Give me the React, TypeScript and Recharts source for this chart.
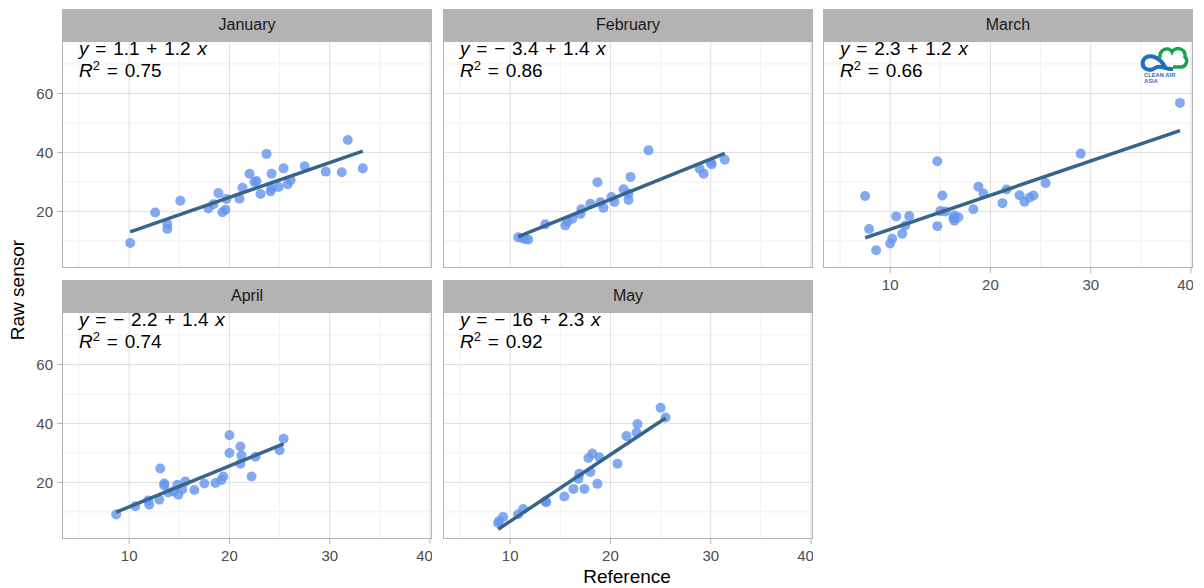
import React from 'react';
import { CartesianGrid, Scatter, ScatterChart, XAxis, YAxis } from 'recharts';

type Pt = { x: number; y: number };

const months = ['January', 'February', 'March', 'April', 'May'];

const january: Pt[] = [
  { x: 10.1, y: 9.3 }, { x: 12.6, y: 19.6 }, { x: 13.8, y: 15.7 }, { x: 13.8, y: 14.0 },
  { x: 15.1, y: 23.6 }, { x: 17.9, y: 21.0 }, { x: 18.4, y: 22.4 }, { x: 18.9, y: 26.2 },
  { x: 19.3, y: 19.7 }, { x: 19.6, y: 20.6 }, { x: 19.7, y: 24.2 }, { x: 21.0, y: 24.3 },
  { x: 21.3, y: 28.0 }, { x: 22.0, y: 32.8 }, { x: 22.5, y: 30.0 }, { x: 22.7, y: 30.3 },
  { x: 23.1, y: 25.9 }, { x: 23.7, y: 39.5 }, { x: 24.1, y: 26.8 }, { x: 24.2, y: 32.8 },
  { x: 24.2, y: 27.8 }, { x: 24.9, y: 28.3 }, { x: 25.4, y: 34.6 }, { x: 25.8, y: 29.2 },
  { x: 26.1, y: 30.6 }, { x: 27.5, y: 35.3 }, { x: 29.6, y: 33.5 }, { x: 31.2, y: 33.3 },
  { x: 31.8, y: 44.2 }, { x: 33.3, y: 34.6 },
];

const february: Pt[] = [
  { x: 10.8, y: 11.2 }, { x: 11.2, y: 11.0 }, { x: 11.5, y: 10.6 }, { x: 11.8, y: 10.5 },
  { x: 13.5, y: 15.6 }, { x: 15.5, y: 15.2 }, { x: 15.7, y: 16.5 }, { x: 16.2, y: 17.5 },
  { x: 17.0, y: 19.1 }, { x: 17.1, y: 20.7 }, { x: 18.0, y: 22.6 }, { x: 18.7, y: 29.9 },
  { x: 19.0, y: 23.1 }, { x: 19.3, y: 21.2 }, { x: 20.1, y: 24.9 }, { x: 20.4, y: 23.2 },
  { x: 21.3, y: 27.5 }, { x: 21.8, y: 26.1 }, { x: 21.8, y: 23.9 }, { x: 22.0, y: 31.7 },
  { x: 23.8, y: 40.7 }, { x: 28.9, y: 34.5 }, { x: 29.3, y: 32.8 }, { x: 30.1, y: 36.0 },
  { x: 30.0, y: 36.5 }, { x: 31.4, y: 37.5 },
];

const march: Pt[] = [
  { x: 7.5, y: 25.2 }, { x: 7.9, y: 14.0 }, { x: 8.6, y: 6.8 }, { x: 10.0, y: 9.1 },
  { x: 10.2, y: 10.7 }, { x: 10.6, y: 18.3 }, { x: 11.2, y: 12.4 }, { x: 11.5, y: 15.2 },
  { x: 11.9, y: 18.4 }, { x: 14.7, y: 37.0 }, { x: 14.7, y: 15.0 }, { x: 15.2, y: 25.4 },
  { x: 15.0, y: 20.1 }, { x: 15.5, y: 20.0 }, { x: 16.3, y: 17.6 }, { x: 16.4, y: 16.8 },
  { x: 16.8, y: 18.0 }, { x: 16.4, y: 18.6 }, { x: 18.3, y: 20.7 }, { x: 18.8, y: 28.4 },
  { x: 19.3, y: 26.1 }, { x: 21.2, y: 22.8 }, { x: 21.6, y: 27.4 }, { x: 22.9, y: 25.5 },
  { x: 23.4, y: 23.3 }, { x: 23.9, y: 24.7 }, { x: 24.3, y: 25.4 }, { x: 25.5, y: 29.6 },
  { x: 29.0, y: 39.6 }, { x: 38.9, y: 56.8 },
];

const april: Pt[] = [
  { x: 8.7, y: 9.1 }, { x: 10.6, y: 11.9 }, { x: 11.9, y: 13.9 }, { x: 12.0, y: 12.4 },
  { x: 13.0, y: 14.1 }, { x: 13.1, y: 24.7 }, { x: 13.5, y: 19.6 }, { x: 13.5, y: 19.0 },
  { x: 13.9, y: 16.6 }, { x: 14.4, y: 16.9 }, { x: 14.8, y: 19.2 }, { x: 14.9, y: 15.8 },
  { x: 15.3, y: 17.7 }, { x: 15.6, y: 20.3 }, { x: 16.5, y: 17.4 }, { x: 17.5, y: 19.6 },
  { x: 18.6, y: 19.8 }, { x: 19.2, y: 20.8 }, { x: 19.4, y: 22.0 }, { x: 20.0, y: 36.0 },
  { x: 20.0, y: 30.0 }, { x: 21.1, y: 32.2 }, { x: 21.2, y: 29.1 }, { x: 21.1, y: 26.3 },
  { x: 22.2, y: 22.0 }, { x: 22.6, y: 28.7 }, { x: 25.0, y: 30.9 }, { x: 25.4, y: 34.8 },
];

const may: Pt[] = [
  { x: 8.8, y: 6.2 }, { x: 8.9, y: 6.9 }, { x: 9.3, y: 8.3 }, { x: 10.8, y: 9.2 },
  { x: 11.3, y: 11.0 }, { x: 13.5, y: 13.5 }, { x: 13.6, y: 13.3 }, { x: 15.4, y: 15.2 },
  { x: 16.3, y: 17.8 }, { x: 16.9, y: 22.9 }, { x: 16.8, y: 21.2 }, { x: 17.4, y: 17.8 },
  { x: 17.8, y: 28.3 }, { x: 18.0, y: 23.5 }, { x: 18.2, y: 29.8 }, { x: 18.7, y: 19.5 },
  { x: 18.9, y: 28.5 }, { x: 20.7, y: 26.3 }, { x: 21.6, y: 35.7 }, { x: 22.6, y: 36.9 },
  { x: 22.7, y: 39.8 }, { x: 25.0, y: 45.3 }, { x: 25.5, y: 42.0 },
];

const monthData = [january, february, march, april, may];

// fitted lines (labels show them rounded to 2 significant digits)
const intercepts = [1.14, -3.36, 2.3, -2.2, -15.8];
const slopes = [1.18, 1.37, 1.16, 1.39, 2.26];
const rSquared = ['0.75', '0.86', '0.66', '0.74', '0.92'];

const xTicks = [10, 20, 30, 40];
const xMinor = [5, 15, 25, 35];
const yTicks = [20, 40, 60];
const yMinor = [10, 30, 50, 70];

const FONT = '"Liberation Sans", Arial, Helvetica, sans-serif';
const PANEL_W = 370;
const PANEL_H = 227;
const STRIP_H = 32;
const Y_AXIS_W = 50;
const X_AXIS_H = 30;
const colLeft = [62, 443, 823];
const rowTop = [41, 312];

const fmt = (v: number) => {
  const s = Number(v.toPrecision(2)).toString();
  return v < 0 ? `\u2212 ${s.replace('-', '')}` : s;
};

function Panel({ i }: { i: number }) {
  const col = i % 3;
  const row = Math.floor(i / 3);
  const showY = col === 0;
  const showX = i >= 2;
  const pts = monthData[i];
  const xs = pts.map((p) => p.x);
  const fit = [Math.min(...xs), Math.max(...xs)].map((x) => ({ x, y: intercepts[i] + slopes[i] * x }));
  const left = colLeft[col];
  const top = rowTop[row];

  return (
    <>
      <div
        style={{
          position: 'absolute', left, top: top - STRIP_H, width: PANEL_W, height: STRIP_H,
          background: '#b3b3b3', color: '#1a1a1a', fontSize: 16, lineHeight: `${STRIP_H}px`,
          textAlign: 'center',
        }}
      >
        {months[i]}
      </div>
      <div style={{ position: 'absolute', left: left - (showY ? Y_AXIS_W : 0), top }}>
        <ScatterChart
          width={PANEL_W + (showY ? Y_AXIS_W : 0)}
          height={PANEL_H + (showX ? X_AXIS_H : 0)}
          margin={{ top: 0, right: 0, bottom: 0, left: 0 }}
        >
          <CartesianGrid horizontalValues={yMinor} verticalValues={xMinor} stroke="#f0f0f0" />
          <CartesianGrid horizontalValues={yTicks} verticalValues={xTicks} stroke="#dedede" />
          <XAxis
            type="number" dataKey="x" domain={[3.3, 40.2]} ticks={xTicks} allowDataOverflow
            hide={!showX} height={X_AXIS_H} axisLine={false} tickSize={5} tickMargin={6}
            tickLine={{ stroke: '#b3b3b3' }} tick={{ fill: '#4d4d4d', fontSize: 15 }}
          />
          <YAxis
            type="number" dataKey="y" domain={[0.8, 77.8]} ticks={yTicks} allowDataOverflow
            hide={!showY} width={Y_AXIS_W} axisLine={false} tickSize={5} tickMargin={4}
            tickLine={{ stroke: '#b3b3b3' }} tick={{ fill: '#4d4d4d', fontSize: 15 }}
          />
          <Scatter
            data={pts}
            isAnimationActive={false}
            shape={(p: any) => <circle cx={p.cx} cy={p.cy} r={5} fill="#6495ED" fillOpacity={0.8} />}
          />
          <Scatter
            data={fit}
            isAnimationActive={false}
            line={{ stroke: '#36648B', strokeWidth: 3.5 }}
            shape={() => <g />}
          />
        </ScatterChart>
      </div>
      <div
        style={{
          position: 'absolute', left, top, width: PANEL_W, height: PANEL_H,
          border: '1px solid #b3b3b3', boxSizing: 'border-box', pointerEvents: 'none',
        }}
      />
      <div
        style={{
          position: 'absolute', left: left + 17, top: top - 3, fontSize: 19, lineHeight: '22px',
          color: '#000', whiteSpace: 'pre', wordSpacing: 1.5,
        }}
      >
        <div>
          <i>y</i> = {fmt(intercepts[i])} + {fmt(slopes[i])} <i>x</i>
        </div>
        <div>
          <i>R</i>
          <span style={{ fontSize: 13, position: 'relative', top: -7 }}>2</span> = {rSquared[i]}
        </div>
      </div>
    </>
  );
}

function Logo() {
  return (
    <svg style={{ position: 'absolute', left: 1140, top: 44 }} width={52} height={42}>
      <path d="M25 23 C19 11, 6 9, 3 17 C1 25, 10 28, 15 24 C20 20, 26 26, 33 25" stroke="#1f6fc0" strokeWidth={4} fill="none" />
      <path d="M20 14 C19 5, 29 2, 32 8 C35 2, 46 4, 45 13 C48 15, 47 22, 42 23 L33 23" stroke="#1aa14a" strokeWidth={3.4} fill="none" />
      <text x={4} y={33} fontSize={5.8} fontWeight={700} fill="#1f6fc0" fontFamily={FONT}>CLEAN AIR</text>
      <text x={4} y={39} fontSize={5.8} fontWeight={700} fill="#1f6fc0" fontFamily={FONT}>ASIA</text>
    </svg>
  );
}

export default function App() {
  return (
    <div
      style={{
        position: 'absolute', left: 0, top: 0, width: 1204, height: 588, background: '#fff',
        fontFamily: FONT, overflow: 'hidden',
      }}
    >
      {months.map((m, i) => (
        <Panel key={m} i={i} />
      ))}
      <Logo />
      <div
        style={{
          position: 'absolute', left: 18, top: 290, transform: 'translate(-50%, -50%) rotate(-90deg)',
          fontSize: 19, color: '#000', whiteSpace: 'nowrap',
        }}
      >
        Raw sensor
      </div>
      <div
        style={{
          position: 'absolute', left: 627, top: 577, transform: 'translate(-50%, -50%)',
          fontSize: 19, color: '#000', whiteSpace: 'nowrap',
        }}
      >
        Reference
      </div>
    </div>
  );
}
